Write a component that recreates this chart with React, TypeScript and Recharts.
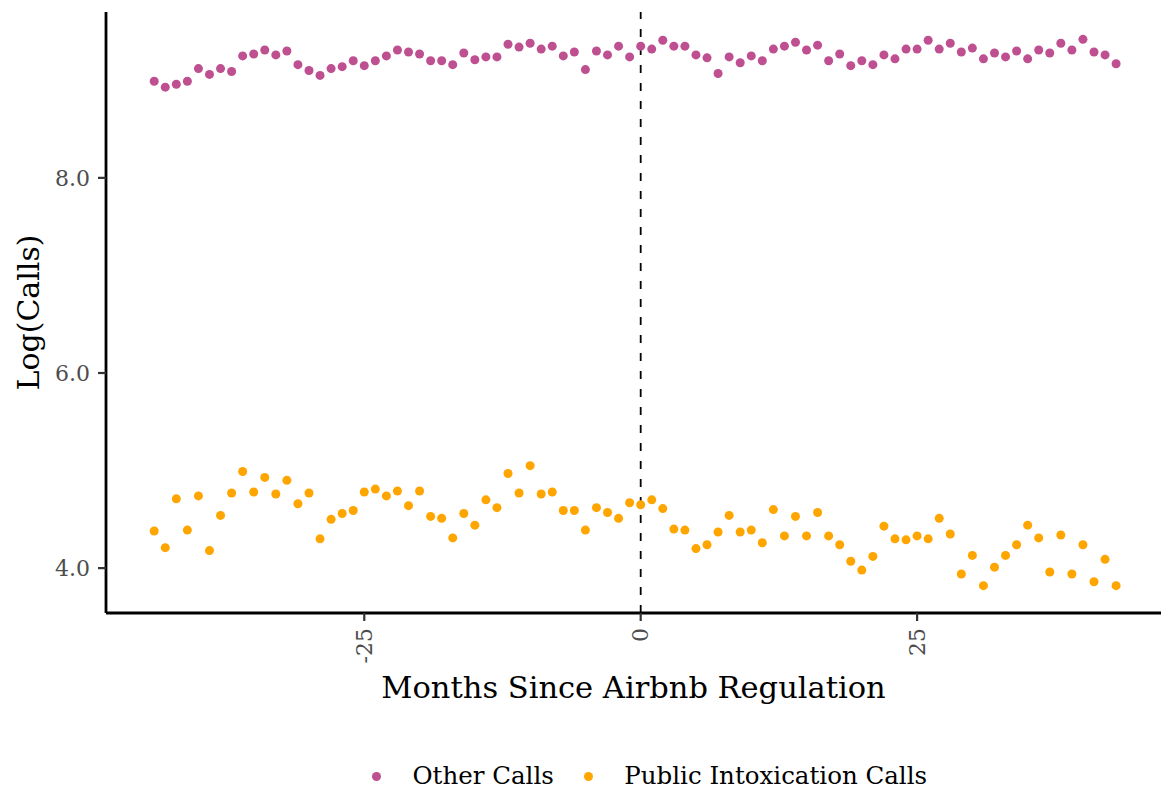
import React from 'react';
import { ScatterChart, Scatter, XAxis, YAxis, ReferenceLine, Legend } from 'recharts';

const months = [
  -44, -43, -42, -41, -40, -39, -38, -37, -36, -35, -34, -33, -32, -31, -30, -29, -28, -27, -26, -25, -24, -23,
  -22, -21, -20, -19, -18, -17, -16, -15, -14, -13, -12, -11, -10, -9, -8, -7, -6, -5, -4, -3, -2, -1,
  0, 1, 2, 3, 4, 5, 6, 7, 8, 9, 10, 11, 12, 13, 14, 15, 16, 17, 18, 19, 20, 21,
  22, 23, 24, 25, 26, 27, 28, 29, 30, 31, 32, 33, 34, 35, 36, 37, 38, 39, 40, 41, 42, 43,
];

const otherCalls = [
  8.99, 8.93, 8.96, 8.99, 9.12, 9.06, 9.12, 9.09, 9.25, 9.27, 9.31, 9.26, 9.30, 9.16, 9.10, 9.05, 9.12, 9.14, 9.20, 9.15, 9.20, 9.25,
  9.31, 9.29, 9.27, 9.20, 9.20, 9.16, 9.28, 9.21, 9.24, 9.24, 9.37, 9.34, 9.38, 9.32, 9.35, 9.25, 9.29, 9.11, 9.30, 9.26, 9.35, 9.24,
  9.35, 9.32, 9.41, 9.35, 9.35, 9.26, 9.23, 9.07, 9.24, 9.18, 9.25, 9.20, 9.32, 9.35, 9.39, 9.31, 9.36, 9.20, 9.27, 9.15, 9.20, 9.16,
  9.26, 9.22, 9.32, 9.32, 9.41, 9.32, 9.38, 9.29, 9.33, 9.22, 9.28, 9.24, 9.30, 9.22, 9.31, 9.28, 9.38, 9.31, 9.42, 9.29, 9.26, 9.17,
];

const intoxCalls = [
  4.38, 4.21, 4.71, 4.39, 4.74, 4.18, 4.54, 4.77, 4.99, 4.78, 4.93, 4.76, 4.90, 4.66, 4.77, 4.30, 4.50, 4.56, 4.59, 4.78, 4.81, 4.74,
  4.79, 4.64, 4.79, 4.53, 4.51, 4.31, 4.56, 4.44, 4.70, 4.62, 4.97, 4.77, 5.05, 4.76, 4.78, 4.59, 4.59, 4.39, 4.62, 4.57, 4.51, 4.67,
  4.65, 4.70, 4.61, 4.40, 4.39, 4.20, 4.24, 4.37, 4.54, 4.37, 4.39, 4.26, 4.60, 4.33, 4.53, 4.33, 4.57, 4.33, 4.24, 4.07, 3.98, 4.12,
  4.43, 4.30, 4.29, 4.33, 4.30, 4.51, 4.35, 3.94, 4.13, 3.82, 4.01, 4.13, 4.24, 4.44, 4.31, 3.96, 4.34, 3.94, 4.24, 3.86, 4.09, 3.82,
];

const xTicks = [-25, 0, 25];
const yTicks = [4, 6, 8];
const seriesNames = ['Other Calls', 'Public Intoxication Calls'];
const seriesColors = ['#BE4F90', '#FFA500'];
const xTitle = 'Months Since Airbnb Regulation';
const yTitle = 'Log(Calls)';
const regulationMonth = 0;

const FONT = '"DejaVu Serif", serif';
const TICK_COLOR = '#4D4D4D';

const otherData = months.map((m, i) => ({ x: m, y: otherCalls[i] }));
const intoxData = months.map((m, i) => ({ x: m, y: intoxCalls[i] }));

const Dot = (props: any) => {
  const { cx, cy, fill } = props;
  if (cx == null || cy == null) return null;
  return <circle cx={cx} cy={cy} r={4.5} fill={fill} />;
};

const XTick = (props: any) => {
  const { x, y, payload } = props;
  return (
    <text
      x={x}
      y={y}
      transform={`rotate(-90, ${x}, ${y})`}
      textAnchor="end"
      dominantBaseline="central"
      fontFamily={FONT}
      fontSize={22}
      fill={TICK_COLOR}
    >
      {payload.value}
    </text>
  );
};

const YTitle = (props: any) => {
  const vb = props.viewBox || { x: 0, y: 0, width: 0, height: 0 };
  const cx = vb.x + 28;
  const cy = vb.y + vb.height / 2;
  return (
    <text
      x={cx}
      y={cy}
      transform={`rotate(-90, ${cx}, ${cy})`}
      textAnchor="middle"
      dominantBaseline="central"
      fontFamily={FONT}
      fontSize={30}
      fill="#000"
    >
      {yTitle}
    </text>
  );
};

const XTitle = (props: any) => {
  const vb = props.viewBox || { x: 0, y: 0, width: 0, height: 0 };
  const cx = vb.x + vb.width / 2;
  const cy = vb.y + 85;
  return (
    <text x={cx} y={cy} textAnchor="middle" fontFamily={FONT} fontSize={30.5} fill="#000">
      {xTitle}
    </text>
  );
};

const LegendContent = (props: any) => {
  const payload = props.payload || [];
  return (
    <div
      style={{
        display: 'flex',
        alignItems: 'center',
        paddingLeft: 372,
        height: 32,
        fontFamily: FONT,
        fontSize: 24.5,
        lineHeight: '32px',
        color: '#000',
      }}
    >
      {payload.map((e: any, i: number) => (
        <div key={i} style={{ display: 'flex', alignItems: 'center', marginRight: 30 }}>
          <svg width={9} height={9} style={{ display: 'block' }}>
            <circle cx={4.5} cy={4.5} r={4.5} fill={e.color} />
          </svg>
          <span style={{ marginLeft: 31.5, whiteSpace: 'nowrap' }}>{e.value}</span>
        </div>
      ))}
    </div>
  );
};

export default function App() {
  return (
    <div style={{ position: 'absolute', left: 0, top: 0, width: 1161, height: 794, background: '#fff' }}>
      <ScatterChart width={1161} height={794} margin={{ top: 12, right: 0, left: 0, bottom: 81 }}>
        <XAxis
          type="number"
          dataKey="x"
          domain={[-48.36, 47.06]}
          allowDataOverflow
          ticks={xTicks}
          interval={0}
          height={100}
          tickSize={8}
          tickMargin={7}
          axisLine={{ stroke: '#000', strokeWidth: 2.8 }}
          tickLine={{ stroke: '#333', strokeWidth: 2.2 }}
          tick={<XTick />}
          label={{ content: XTitle }}
        />
        <YAxis
          type="number"
          dataKey="y"
          domain={[3.54, 9.7]}
          allowDataOverflow
          ticks={yTicks}
          interval={0}
          width={106}
          tickSize={8}
          tickMargin={8}
          tickFormatter={(v: number) => v.toFixed(1)}
          axisLine={{ stroke: '#000', strokeWidth: 2.8 }}
          tickLine={{ stroke: '#333', strokeWidth: 2.2 }}
          tick={{ fontFamily: FONT, fontSize: 22, fill: TICK_COLOR }}
          label={{ content: YTitle }}
        />
        <Scatter
          name={seriesNames[0]}
          data={otherData}
          fill={seriesColors[0]}
          shape={Dot}
          legendType="circle"
          isAnimationActive={false}
        />
        <Scatter
          name={seriesNames[1]}
          data={intoxData}
          fill={seriesColors[1]}
          shape={Dot}
          legendType="circle"
          isAnimationActive={false}
        />
        <ReferenceLine x={regulationMonth} stroke="#000" strokeWidth={1.8} strokeDasharray="8 10" />
        <Legend
          verticalAlign="middle"
          align="center"
          layout="horizontal"
          content={LegendContent}
          wrapperStyle={{ top: 760, left: 0, width: 1161, height: 32 }}
        />
      </ScatterChart>
    </div>
  );
}
